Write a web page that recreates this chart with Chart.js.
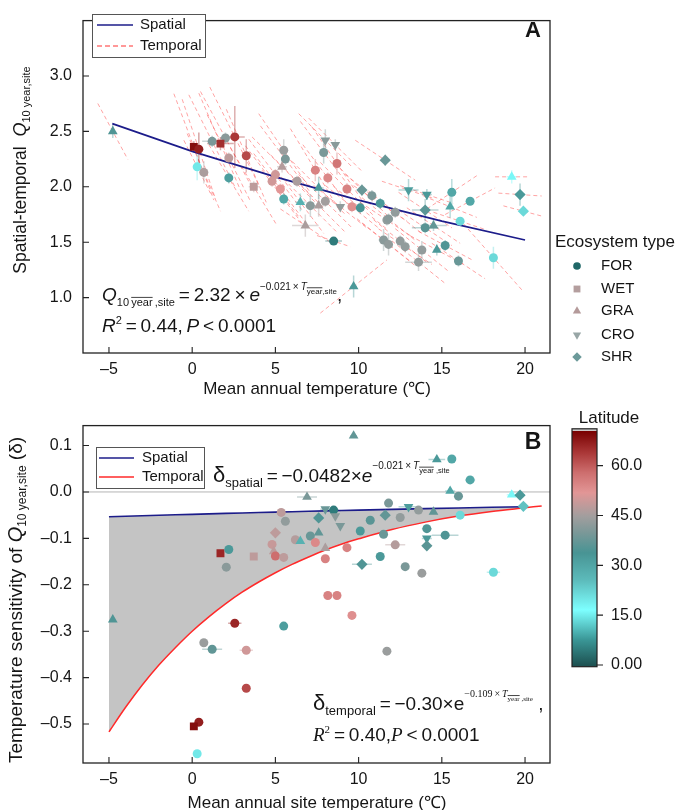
<!DOCTYPE html>
<html lang="en">
<head>
<meta charset="UTF-8">
<title>Spatial vs temporal Q10</title>
<script src="https://cdn.jsdelivr.net/npm/chart.js"></script>
<style>
  body { margin: 0; background: #fff; }
  #wrap { position: relative; width: 686px; height: 810px; overflow: hidden; }
  #wrap canvas { position: absolute; left: 0; }
  #chartA { top: 0; }
  #chartB { top: 405px; }
</style>
</head>
<body>
<div id="wrap">
  <canvas id="chartA" width="686" height="405"></canvas>
  <canvas id="chartB" width="686" height="405"></canvas>
</div>
<script>
// ---- axes / legend values
const ecoTypes = ['FOR', 'WET', 'GRA', 'CRO', 'SHR'];
const xTicks = [-5, 0, 5, 10, 15, 20];
const yTicksA = [1.0, 1.5, 2.0, 2.5, 3.0];
const yTicksB = [0.1, 0, -0.1, -0.2, -0.3, -0.4, -0.5];
const latTicks = [0, 15, 30, 45, 60];

// ---- panel A: site Q10 vs mean annual temperature
const aTemp = [-4.77, 0.1, 0.4, 0.3, 0.7, 2.2, 1.2, 2.0, 1.7, 2.56, 3.25, 2.2, 5.5, 5.6, 5.4, 5.0, 7.4, 8.7, 8.15, 7.9,
  8.0, 8.6, 11.6, 3.7, 4.8, 5.3, 6.3, 7.6, 9.3, 10.2, 10.8, 5.5, 6.5, 7.1, 7.6, 8.0, 8.9, 9.6, 10.1, 11.3,
  6.8, 8.5, 11.7, 11.5, 11.8, 9.7, 13.0, 14.1, 15.6, 16.7, 19.7, 19.9, 19.2, 14.0, 15.5, 16.1, 14.0, 14.5, 12.2, 11.8,
  12.5, 12.8, 13.8, 13.6, 14.7, 15.2, 16.0, 18.1];
const aQ10 = [2.50, 2.36, 2.34, 2.18, 2.13, 2.08, 2.41, 2.44, 2.39, 2.45, 2.28, 2.26, 2.33, 2.25, 2.18, 2.11, 2.15, 2.21, 2.08, 2.31,
  2.42, 2.38, 2.24, 2.00, 2.05, 1.98, 2.05, 1.99, 1.98, 1.97, 1.92, 1.89, 1.86, 1.83, 1.83, 1.87, 1.82, 1.82, 1.81, 1.85,
  1.65, 1.51, 1.70, 1.52, 1.48, 1.10, 1.97, 1.93, 1.95, 1.87, 1.93, 1.78, 2.09, 1.79, 1.82, 1.69, 1.63, 1.65, 1.77, 1.71,
  1.51, 1.46, 1.43, 1.32, 1.43, 1.47, 1.33, 1.36];
const aLat = [35, 69, 67, 20, 46, 32, 40, 42, 65, 64, 62, 48, 44, 40, 47, 50, 55, 57, 54, 40,
  42, 42, 38, 48, 50, 52, 46, 33, 55, 38, 40, 30, 28, 42, 46, 45, 43, 53, 34, 33,
  46, 5, 43, 42, 43, 33, 32, 33, 30, 30, 33, 22, 18, 36, 30, 22, 36, 37, 43, 42,
  43, 43, 43, 43, 33, 35, 38, 22];
const aType = ['GRA', 'WET', 'FOR', 'FOR', 'FOR', 'FOR', 'FOR', 'FOR', 'WET', 'FOR', 'FOR', 'FOR', 'FOR', 'FOR', 'GRA', 'FOR', 'FOR', 'FOR', 'FOR', 'FOR',
  'CRO', 'CRO', 'SHR', 'WET', 'FOR', 'FOR', 'FOR', 'GRA', 'FOR', 'SHR', 'FOR', 'FOR', 'GRA', 'FOR', 'GRA', 'FOR', 'CRO', 'FOR', 'FOR', 'FOR',
  'GRA', 'FOR', 'FOR', 'FOR', 'FOR', 'GRA', 'CRO', 'CRO', 'FOR', 'FOR', 'SHR', 'SHR', 'GRA', 'SHR', 'GRA', 'FOR', 'FOR', 'GRA', 'FOR', 'FOR',
  'FOR', 'FOR', 'FOR', 'FOR', 'GRA', 'FOR', 'FOR', 'FOR'];
// temporal (year-to-year) slope dQ10/dT and half range of yearly temperature
const aSlope = [-0.28, -0.40, -0.45, -0.30, -0.35, -0.25, -0.30, -0.28, -0.35, -0.30, -0.35, -0.30, -0.22, -0.20, -0.15, -0.20, -0.25, -0.22, -0.20, -0.20,
  -0.15, -0.15, -0.10, -0.25, -0.20, -0.20, -0.15, -0.15, -0.15, -0.15, -0.12, -0.20, -0.20, -0.15, -0.15, -0.15, -0.12, -0.12, -0.12, -0.10,
  -0.10, -0.05, -0.10, -0.12, -0.12, 0.12, -0.05, -0.05, 0.10, 0.08, -0.01, -0.04, 0.00, -0.10, -0.06, -0.05, -0.10, -0.10, -0.12, -0.12,
  -0.12, -0.10, -0.12, -0.12, -0.08, -0.08, -0.10, -0.17];
const aSpan = [0.9, 1.2, 1.0, 0.8, 1.0, 1.2, 1.4, 1.5, 1.3, 1.5, 1.2, 1.3, 1.5, 1.5, 1.8, 1.6, 1.5, 1.5, 1.5, 1.4,
  1.6, 1.6, 1.8, 1.4, 1.6, 1.6, 1.6, 1.6, 1.6, 1.6, 1.6, 1.3, 1.4, 1.6, 1.6, 1.6, 1.6, 1.6, 1.6, 1.6,
  1.5, 1.0, 1.6, 1.6, 1.6, 2.0, 1.6, 1.6, 1.5, 1.5, 1.3, 1.2, 1.0, 1.6, 1.6, 1.6, 1.6, 1.6, 1.6, 1.6,
  1.6, 1.6, 1.6, 1.6, 1.6, 1.6, 1.6, 1.8];
const aTempErr = [0.1, 0.2, 0.2, 0.1, 0.2, 0.2, 0.6, 0.3, 0.8, 0.6, 0.2, 0.2, 0.2, 0.2, 0.3, 0.2, 0.2, 0.2, 0.2, 0.2,
  0.2, 0.2, 0.2, 0.3, 0.2, 0.2, 0.3, 0.3, 0.2, 0.2, 0.2, 0.2, 0.3, 0.3, 0.3, 0.2, 0.2, 0.2, 0.2, 0.2,
  0.8, 0.5, 0.2, 0.3, 0.2, 0.2, 0.6, 0.3, 0.1, 0.1, 0.2, 0.2, 0.3, 0.8, 0.2, 0.1, 0.8, 0.8, 0.2, 0.2,
  0.2, 0.2, 0.2, 0.8, 0.2, 0.2, 0.2, 0.2];
const aQ10Err = [0.06, 0.05, 0.15, 0.12, 0.10, 0.05, 0.05, 0.05, 0.06, 0.28, 0.15, 0.05, 0.10, 0.05, 0.05, 0.05, 0.10, 0.10, 0.05, 0.10,
  0.10, 0.05, 0.05, 0.05, 0.05, 0.05, 0.05, 0.10, 0.05, 0.05, 0.05, 0.05, 0.08, 0.10, 0.10, 0.05, 0.05, 0.05, 0.05, 0.05,
  0.10, 0.03, 0.05, 0.10, 0.10, 0.10, 0.10, 0.05, 0.12, 0.03, 0.10, 0.03, 0.06, 0.10, 0.10, 0.03, 0.05, 0.05, 0.05, 0.05,
  0.05, 0.05, 0.08, 0.08, 0.05, 0.05, 0.05, 0.10];
// spatial fit
const spatialTA = [-4.8, 0, 5, 10, 15, 20];
const spatialQA = [2.57, 2.32, 2.09, 1.88, 1.69, 1.52];

// ---- panel B: temperature sensitivity (delta)
const bTemp = [9.7, 6.9, 11.8, 5.35, 5.6, 8.0, 8.5, 8.6, 7.6, 8.9, 5.0, 7.1, 7.6, 10.1, 10.7, 11.6, 11.5, 6.2, 6.5, 7.4,
  4.8, 8.0, 9.3, 8.0, 4.9, 5.0, 5.5, 1.7, 2.2, 2.05, 3.7, 11.3, 10.2, 8.15, 8.7, 9.6, -4.77, 2.56, 5.5, 0.7,
  1.2, 3.25, 11.7, 3.25, 0.4, 0.1, 0.3, 14.7, 15.6, 16.7, 15.5, 16.0, 19.2, 19.7, 19.9, 13.0, 13.6, 14.5, 12.5, 16.1,
  14.1, 15.2, 14.1, 14.1, 12.2, 12.8, 13.8, 18.1];
const bDelta = [0.121, -0.011, -0.024, -0.044, -0.063, -0.037, -0.039, -0.052, -0.056, -0.073, -0.088, -0.095, -0.088, -0.084, -0.061, -0.050, -0.091, -0.103, -0.106, -0.109,
  -0.113, -0.121, -0.120, -0.144, -0.128, -0.138, -0.141, -0.132, -0.124, -0.162, -0.139, -0.139, -0.156, -0.223, -0.223, -0.266, -0.275, -0.283, -0.289, -0.325,
  -0.339, -0.341, -0.343, -0.423, -0.496, -0.505, -0.564, 0.070, 0.071, 0.026, 0.002, -0.009, -0.006, -0.007, -0.031, -0.032, -0.039, -0.043, -0.055, -0.050,
  -0.079, -0.093, -0.100, -0.116, -0.114, -0.161, -0.175, -0.173];
const bLat = [37, 40, 40, 48, 43, 38, 5, 42, 35, 40, 48, 38, 37, 33, 36, 37, 38, 47, 28, 54,
  49, 46, 55, 55, 48, 58, 48, 66, 33, 42, 48, 33, 35, 55, 55, 53, 35, 66, 32, 44,
  37, 50, 44, 62, 67, 69, 20, 33, 30, 30, 30, 38, 18, 33, 25, 32, 43, 37, 43, 22,
  35, 35, 33, 36, 47, 40, 44, 22];
const bType = ['GRA', 'GRA', 'FOR', 'FOR', 'FOR', 'CRO', 'FOR', 'CRO', 'SHR', 'CRO', 'SHR', 'FOR', 'GRA', 'FOR', 'FOR', 'SHR', 'FOR', 'FOR', 'GRA', 'FOR',
  'FOR', 'GRA', 'FOR', 'FOR', 'GRA', 'FOR', 'FOR', 'WET', 'FOR', 'FOR', 'WET', 'FOR', 'SHR', 'FOR', 'FOR', 'FOR', 'GRA', 'FOR', 'FOR', 'FOR',
  'FOR', 'FOR', 'FOR', 'FOR', 'FOR', 'WET', 'FOR', 'GRA', 'FOR', 'FOR', 'GRA', 'FOR', 'GRA', 'SHR', 'SHR', 'CRO', 'FOR', 'GRA', 'FOR', 'FOR',
  'FOR', 'FOR', 'CRO', 'SHR', 'FOR', 'FOR', 'FOR', 'FOR'];
const bTempErr = [0.2, 0.6, 0.2, 0.3, 0.3, 0.3, 0.3, 0.3, 0.3, 0.2, 0.2, 0.2, 1.2, 0.2, 0.2, 0.3, 0.2, 0.2, 0.2, 0.2,
  0.2, 0.2, 0.2, 0.2, 0.6, 0.2, 0.5, 1.2, 0.3, 0.1, 0.2, 0.2, 0.6, 0.1, 0.1, 0.1, 0.1, 0.4, 0.2, 0.1,
  0.6, 0.4, 0.1, 0.1, 0.1, 0.1, 0.1, 0.5, 0.1, 0.3, 0.3, 0.1, 0.3, 0.3, 0.2, 0.6, 0.3, 1.2, 0.2, 0.2,
  0.3, 0.8, 0.3, 0.2, 0.6, 0.2, 0.1, 0.4];
// fitted curves read along the blue and red lines
const curveT = [-5, -4, -3, -2, -1, 0, 1, 2, 3, 4, 5, 6, 7, 8, 9, 10, 12, 14, 16, 18, 20];
const spatialB = [-0.0535, -0.0524, -0.0513, -0.0503, -0.0492, -0.0482, -0.0472, -0.0462, -0.0453, -0.0443, -0.0434,
  -0.0425, -0.0416, -0.0407, -0.0399, -0.0391, -0.0375, -0.0359, -0.0344, -0.0330, -0.0317];
const temporalB = [-0.517, -0.464, -0.416, -0.373, -0.335, -0.300, -0.269, -0.241, -0.216, -0.194, -0.174,
  -0.156, -0.140, -0.125, -0.112, -0.101, -0.081, -0.065, -0.052, -0.042, -0.034];
const temporalTailT = [21];
const temporalTailB = [-0.030];

// ---- styles
const SANS = '"Liberation Sans", Arial, sans-serif';
const SERIF = '"Liberation Serif", "Times New Roman", serif';
const INK = '#151515';
const TS = '\u2009'; // thin space used in the formulas
const shapeStyle = {
  FOR: { ps: 'circle', r: 4.5, rot: 0 },
  WET: { ps: 'rect', r: 5.6, rot: 0 },
  GRA: { ps: 'triangle', r: 5.6, rot: 0 },
  CRO: { ps: 'triangle', r: 5.6, rot: 180 },
  SHR: { ps: 'rectRot', r: 5.6, rot: 0 }
};
const legendColor = { FOR: '#1f6767', WET: '#b49e9e', GRA: '#b49a9a', CRO: '#98a6a6', SHR: '#6c9a9a' };
const latStops = [[0, [28, 78, 78]], [8, [58, 150, 150]], [17, [125, 255, 255]], [26, [92, 186, 186]], [34, [72, 148, 148]],
  [40, [122, 152, 152]], [45, [162, 158, 158]], [52, [226, 150, 150]], [58, [205, 110, 110]], [64, [170, 55, 55]], [70.5, [120, 0, 0]]];

function latRGB(l) {
  for (let i = 1; i < latStops.length; i++) {
    if (l <= latStops[i][0]) {
      const [l0, c0] = latStops[i - 1], [l1, c1] = latStops[i];
      const f = Math.max(0, (l - l0) / (l1 - l0));
      return c0.map((c, k) => Math.round(c + (c1[k] - c) * f));
    }
  }
  return latStops[latStops.length - 1][1];
}
function latColor(l, a) {
  const c = latRGB(l);
  return `rgba(${c[0]},${c[1]},${c[2]},${a})`;
}

// ---- rich text helpers (sub/superscripts)
function R(t, size, o) {
  o = o || {};
  return { t, s: size, dy: o.dy || 0, over: !!o.over, f: `${o.it ? 'italic ' : ''}${size}px ${o.serif ? SERIF : SANS}` };
}
function runsWidth(ctx, runs) {
  let w = 0;
  runs.forEach(r => { ctx.font = r.f; w += ctx.measureText(r.t).width; });
  return w;
}
function drawRuns(ctx, x, y, runs) {
  ctx.save();
  ctx.fillStyle = INK;
  ctx.strokeStyle = INK;
  ctx.textAlign = 'left';
  ctx.textBaseline = 'alphabetic';
  runs.forEach(r => {
    ctx.font = r.f;
    const w = ctx.measureText(r.t).width;
    ctx.fillText(r.t, x, y + r.dy);
    if (r.over) {
      const oy = y + r.dy - r.s * 0.78;
      ctx.lineWidth = 0.8;
      ctx.beginPath(); ctx.moveTo(x, oy); ctx.lineTo(x + w, oy); ctx.stroke();
    }
    x += w;
  });
  ctx.restore();
}
function drawRotated(ctx, cx, cy, runs) {
  ctx.save();
  const w = runsWidth(ctx, runs);
  ctx.translate(cx, cy);
  ctx.rotate(-Math.PI / 2);
  drawRuns(ctx, -w / 2, 6, runs);
  ctx.restore();
}
function drawText(ctx, t, x, y, size, align, weight) {
  ctx.save();
  ctx.fillStyle = INK;
  ctx.font = `${weight || ''} ${size}px ${SANS}`;
  ctx.textAlign = align || 'left';
  ctx.textBaseline = 'middle';
  ctx.fillText(t, x, y);
  ctx.restore();
}
function drawShape(ctx, type, x, y, color) {
  const s = shapeStyle[type], r = s.r * 0.85;
  ctx.save();
  ctx.fillStyle = color;
  ctx.beginPath();
  if (s.ps === 'circle') ctx.arc(x, y, r, 0, Math.PI * 2);
  else if (s.ps === 'rect') ctx.rect(x - r * 0.72, y - r * 0.72, r * 1.44, r * 1.44);
  else if (s.ps === 'rectRot') { ctx.moveTo(x, y - r); ctx.lineTo(x + r, y); ctx.lineTo(x, y + r); ctx.lineTo(x - r, y); }
  else {
    const d = s.rot ? -1 : 1;
    ctx.moveTo(x, y - d * r); ctx.lineTo(x + r * 0.87, y + d * r * 0.5); ctx.lineTo(x - r * 0.87, y + d * r * 0.5);
  }
  ctx.closePath();
  ctx.fill();
  ctx.restore();
}

// frame + inward tick marks
function drawFrame(chart) {
  const { ctx, chartArea: a, scales } = chart;
  ctx.save();
  ctx.strokeStyle = '#222';
  ctx.lineWidth = 1.3;
  ctx.strokeRect(a.left, a.top, a.right - a.left, a.bottom - a.top);
  ctx.lineWidth = 1.1;
  ctx.beginPath();
  scales.x.ticks.forEach(t => {
    const px = scales.x.getPixelForValue(t.value);
    ctx.moveTo(px, a.bottom); ctx.lineTo(px, a.bottom - 6);
  });
  scales.y.ticks.forEach(t => {
    const py = scales.y.getPixelForValue(t.value);
    ctx.moveTo(a.left, py); ctx.lineTo(a.left + 6, py);
  });
  ctx.stroke();
  ctx.restore();
}

function dash(v) { return v < 0 ? '\u2013' + Math.abs(v) : String(v); }

function axisOpts(min, max, ticks, fmt, pad, fit) {
  return {
    type: 'linear', min, max,
    grid: { display: false, drawTicks: false },
    border: { display: false },
    afterBuildTicks: s => { s.ticks = ticks.map(v => ({ value: v })); },
    afterFit: fit,
    ticks: { color: INK, font: { size: 16, family: SANS }, padding: pad, autoSkip: false, maxRotation: 0, callback: fmt }
  };
}

function pointDataset(xs, ys, lats, types) {
  return {
    label: 'sites',
    data: xs.map((x, i) => ({ x, y: ys[i] })),
    pointStyle: types.map(k => shapeStyle[k].ps),
    pointRadius: types.map(k => shapeStyle[k].r),
    pointRotation: types.map(k => shapeStyle[k].rot),
    pointBackgroundColor: lats.map(l => latColor(l, 1)),
    pointBorderWidth: 0,
    order: 0
  };
}

// ---- panel A plugin
const panelA = {
  id: 'panelA',
  beforeDatasetsDraw(chart) {
    const { ctx, chartArea: a, scales: { x, y } } = chart;
    ctx.save();
    ctx.beginPath(); ctx.rect(a.left, a.top, a.right - a.left, a.bottom - a.top); ctx.clip();
    // temporal dashed lines
    ctx.strokeStyle = 'rgba(255,90,90,0.55)';
    ctx.lineWidth = 1;
    ctx.setLineDash([4, 3]);
    aTemp.forEach((t, i) => {
      const h = aSpan[i];
      ctx.beginPath();
      ctx.moveTo(x.getPixelForValue(t - h), y.getPixelForValue(aQ10[i] - aSlope[i] * h));
      ctx.lineTo(x.getPixelForValue(t + h), y.getPixelForValue(aQ10[i] + aSlope[i] * h));
      ctx.stroke();
    });
    ctx.setLineDash([]);
    // error bars
    ctx.lineWidth = 1.5;
    aTemp.forEach((t, i) => {
      ctx.strokeStyle = latColor(aLat[i], 0.4);
      const px = x.getPixelForValue(t), py = y.getPixelForValue(aQ10[i]);
      ctx.beginPath();
      ctx.moveTo(x.getPixelForValue(t - aTempErr[i]), py); ctx.lineTo(x.getPixelForValue(t + aTempErr[i]), py);
      ctx.moveTo(px, y.getPixelForValue(aQ10[i] - aQ10Err[i])); ctx.lineTo(px, y.getPixelForValue(aQ10[i] + aQ10Err[i]));
      ctx.stroke();
    });
    ctx.restore();
  },
  afterDraw(chart) {
    const ctx = chart.ctx;
    drawFrame(chart);
    // legend box
    ctx.save();
    ctx.fillStyle = '#fff'; ctx.strokeStyle = '#555'; ctx.lineWidth = 1;
    ctx.fillRect(92, 14, 113, 43); ctx.strokeRect(92.5, 14.5, 113, 43);
    ctx.strokeStyle = '#1c1c8a'; ctx.lineWidth = 1.5;
    ctx.beginPath(); ctx.moveTo(97, 25); ctx.lineTo(133, 25); ctx.stroke();
    ctx.strokeStyle = '#ff3333'; ctx.lineWidth = 1.2; ctx.setLineDash([5, 3]);
    ctx.beginPath(); ctx.moveTo(97, 46); ctx.lineTo(133, 46); ctx.stroke();
    ctx.restore();
    drawText(ctx, 'Spatial', 140, 25, 15);
    drawText(ctx, 'Temporal', 140, 46, 15);
    drawText(ctx, 'A', 533, 31, 22, 'center', 'bold');
    // formula
    drawRuns(ctx, 102, 301, [
      R('Q', 19, { it: true }), R('10' + TS, 11, { dy: 5 }), R('year', 11, { dy: 5, over: true }), R(TS + ',site', 11, { dy: 5 }),
      R(TS + '=' + TS + '2.32' + TS + '\u00d7' + TS, 19), R('e', 19, { it: true }),
      R('\u22120.021' + TS + '\u00d7' + TS, 10, { dy: -11 }), R('T', 10, { dy: -11, it: true }),
      R('year', 8, { dy: -7, over: true }), R(',site', 8, { dy: -7 }), R(',', 19)
    ]);
    drawRuns(ctx, 102, 332, [
      R('R', 19, { it: true }), R('2', 11, { dy: -8 }), R(TS + '=' + TS + '0.44,' + TS, 19), R('P', 19, { it: true }),
      R(TS + '<' + TS + '0.0001', 19)
    ]);
    // axis titles
    drawText(ctx, 'Mean annual temperature (\u2103)', 317, 389, 17, 'center');
    drawRotated(ctx, 20, 170, [
      R('Spatial-temporal  ', 17.5), R('Q', 18, { it: true }), R('10 year,site', 11, { dy: 4 })
    ]);
    // ecosystem legend
    drawText(ctx, 'Ecosystem type', 555, 242, 17);
    const ys = [266, 289, 311, 335, 357];
    ecoTypes.forEach((k, i) => {
      drawShape(ctx, k, 577, ys[i], legendColor[k]);
      drawText(ctx, k, 601, ys[i], 15);
    });
  }
};

// ---- panel B plugin
const panelB = {
  id: 'panelB',
  beforeDatasetsDraw(chart) {
    const { ctx, chartArea: a, scales: { x, y } } = chart;
    ctx.save();
    ctx.strokeStyle = '#b4b4b4'; ctx.lineWidth = 1;
    const z = y.getPixelForValue(0);
    ctx.beginPath(); ctx.moveTo(a.left, z); ctx.lineTo(a.right, z); ctx.stroke();
    ctx.beginPath(); ctx.rect(a.left, a.top, a.right - a.left, a.bottom - a.top); ctx.clip();
    ctx.lineWidth = 1.5;
    bTemp.forEach((t, i) => {
      ctx.strokeStyle = latColor(bLat[i], 0.4);
      const py = y.getPixelForValue(bDelta[i]);
      ctx.beginPath();
      ctx.moveTo(x.getPixelForValue(t - bTempErr[i]), py); ctx.lineTo(x.getPixelForValue(t + bTempErr[i]), py);
      ctx.stroke();
    });
    ctx.restore();
  },
  afterDraw(chart) {
    const ctx = chart.ctx;
    drawFrame(chart);
    // legend box
    ctx.save();
    ctx.fillStyle = '#fff'; ctx.strokeStyle = '#555'; ctx.lineWidth = 1;
    ctx.fillRect(96, 42, 108, 41); ctx.strokeRect(96.5, 42.5, 108, 41);
    ctx.strokeStyle = '#1c1c8a'; ctx.lineWidth = 1.5;
    ctx.beginPath(); ctx.moveTo(99, 53); ctx.lineTo(134, 53); ctx.stroke();
    ctx.strokeStyle = '#ff2a2a';
    ctx.beginPath(); ctx.moveTo(99, 72); ctx.lineTo(134, 72); ctx.stroke();
    ctx.restore();
    drawText(ctx, 'Spatial', 142, 53, 15);
    drawText(ctx, 'Temporal', 142, 72, 15);
    drawText(ctx, 'B', 533, 38, 23, 'center', 'bold');
    drawRuns(ctx, 213, 77, [
      R('\u03b4', 22), R('spatial', 13, { dy: 5 }), R(TS + '=' + TS + '\u22120.0482\u00d7', 19), R('e', 19, { it: true }),
      R('\u22120.021' + TS + '\u00d7' + TS, 10, { dy: -13 }), R('T', 10, { dy: -13, it: true }),
      R('year', 7.5, { dy: -9, over: true }), R(' ,site', 7.5, { dy: -9 })
    ]);
    drawRuns(ctx, 313, 305, [
      R('\u03b4', 22), R('temporal', 13, { dy: 5 }), R(TS + '=' + TS + '\u22120.30\u00d7e', 19),
      R('\u22120.109' + TS + '\u00d7' + TS, 10, { dy: -13, serif: true }), R('T', 10, { dy: -13, it: true, serif: true }),
      R('year', 7, { dy: -9, over: true, serif: true }), R(' ,site', 7, { dy: -9, serif: true }), R(' ,', 19)
    ]);
    drawRuns(ctx, 313, 336, [
      R('R', 19, { it: true, serif: true }), R('2', 11, { dy: -8, serif: true }), R(TS + '=' + TS + '0.40,', 19),
      R('P', 19, { it: true, serif: true }), R(TS + '<' + TS + '0.0001', 19)
    ]);
    drawText(ctx, 'Mean annual site temperature (\u2103)', 317, 398, 17, 'center');
    drawRotated(ctx, 16, 195, [
      R('Temperature sensitivity of ', 19), R('Q', 20, { it: true }), R('10 year,site', 12, { dy: 4 }), R(' (\u03b4)', 19)
    ]);
    // latitude colour bar
    const top = 260 - 70.5 * 3.322, bot = 261.7, x0 = 572, x1 = 597;
    const g = ctx.createLinearGradient(0, bot, 0, top);
    latStops.forEach(([l, c]) => g.addColorStop(l / 70.5, `rgb(${c[0]},${c[1]},${c[2]})`));
    ctx.save();
    ctx.fillStyle = g;
    ctx.fillRect(x0, top, x1 - x0, bot - top);
    ctx.fillStyle = '#c8c8c8';
    ctx.fillRect(x0, top - 2, x1 - x0, 2);
    ctx.strokeStyle = '#222'; ctx.lineWidth = 1.2;
    ctx.strokeRect(x0, top - 2, x1 - x0, bot - top + 2);
    ctx.beginPath();
    latTicks.forEach(l => { const py = 260 - l * 3.322; ctx.moveTo(x1, py); ctx.lineTo(x1 + 6, py); });
    ctx.stroke();
    ctx.restore();
    latTicks.forEach(l => drawText(ctx, l === 0 ? '0.00' : l.toFixed(1), 611, 260 - l * 3.322, 16));
    drawText(ctx, 'Latitude', 609, 13, 17, 'center');
  }
};

Chart.defaults.font.family = SANS;

new Chart(document.getElementById('chartA'), {
  type: 'scatter',
  data: {
    datasets: [
      pointDataset(aTemp, aQ10, aLat, aType),
      {
        label: 'Spatial', type: 'line',
        data: spatialTA.map((t, i) => ({ x: t, y: spatialQA[i] })),
        borderColor: '#1c1c8a', borderWidth: 1.7, pointRadius: 0, fill: false, order: 1
      }
    ]
  },
  options: {
    responsive: false, animation: false, events: [],
    layout: { padding: { left: 0, right: 136, top: 11, bottom: 0 } },
    plugins: { legend: { display: false }, tooltip: { enabled: false } },
    scales: {
      x: axisOpts(-6.56, 21.5, xTicks, v => dash(v), 7, s => { s.height = 52; }),
      y: axisOpts(0.5, 3.5, yTicksA, v => v.toFixed(1), 11, s => { s.width = 83; })
    }
  },
  plugins: [panelA]
});

new Chart(document.getElementById('chartB'), {
  type: 'scatter',
  data: {
    datasets: [
      {
        label: 'Spatial', type: 'line',
        data: curveT.map((t, i) => ({ x: t, y: spatialB[i] })),
        borderColor: '#1c1c8a', borderWidth: 1.6, pointRadius: 0, fill: false, order: 1
      },
      {
        label: 'gap', type: 'line',
        data: curveT.map((t, i) => ({ x: t, y: temporalB[i] })),
        borderWidth: 0, pointRadius: 0, fill: '-1', backgroundColor: '#c4c4c4', order: 3
      },
      {
        label: 'Temporal', type: 'line',
        data: curveT.concat(temporalTailT).map((t, i) => ({ x: t, y: temporalB.concat(temporalTailB)[i] })),
        borderColor: '#ff2a2a', borderWidth: 1.5, pointRadius: 0, fill: false, tension: 0.3, order: 1
      },
      pointDataset(bTemp, bDelta, bLat, bType)
    ]
  },
  options: {
    responsive: false, animation: false, events: [],
    layout: { padding: { left: 0, right: 136, top: 18, bottom: 0 } },
    plugins: { legend: { display: false }, tooltip: { enabled: false } },
    scales: {
      x: axisOpts(-6.56, 21.5, xTicks, v => dash(v), 7, s => { s.height = 47; }),
      y: axisOpts(-0.584, 0.143, yTicksB, v => v === 0 ? '0.0' : (v < 0 ? '\u2013' + Math.abs(v).toFixed(1) : v.toFixed(1)), 11, s => { s.width = 83; })
    }
  },
  plugins: [panelB]
});
</script>
</body>
</html>
